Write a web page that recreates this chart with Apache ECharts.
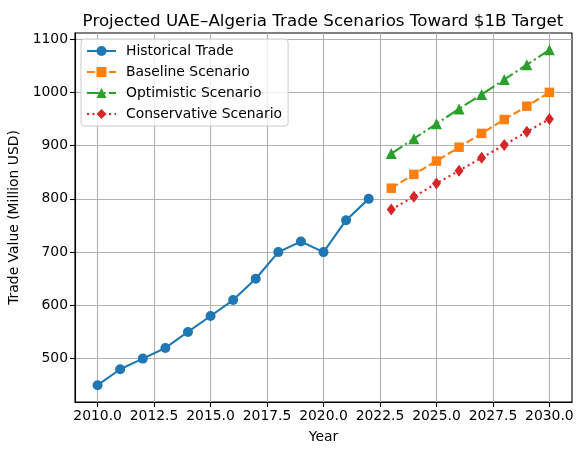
<!DOCTYPE html>
<html>
<head>
<meta charset="UTF-8">
<title>UAE-Algeria trade scenarios</title>
<script src="https://cdn.jsdelivr.net/npm/echarts@6/dist/echarts.min.js"></script>
<style>
    html, body { margin: 0; padding: 0; background: #fff; }
    #chart { width: 582px; height: 455px; }
</style>
</head>
<body>
<div id="chart"></div>
<script>
    // data
    var histYears = [2010, 2011, 2012, 2013, 2014, 2015, 2016, 2017, 2018, 2019, 2020, 2021, 2022];
    var histValues = [450, 480, 500, 520, 550, 580, 610, 650, 700, 720, 700, 760, 800];
    var projYears = [2023, 2024, 2025, 2026, 2027, 2028, 2029, 2030];
    var baseline = [820, 846, 871, 897, 923, 949, 974, 1000];
    var optimistic = [885, 913, 941, 969, 996, 1024, 1052, 1080];
    var conservative = [780, 804, 829, 853, 877, 901, 926, 950];
    var xTicks = [2010, 2012.5, 2015, 2017.5, 2020, 2022.5, 2025, 2027.5, 2030];
    var yTicks = [500, 600, 700, 800, 900, 1000, 1100];

    function pairs(xs, ys) {
        var out = [];
        for (var i = 0; i < xs.length; i++) {
            out.push([xs[i], ys[i]]);
        }
        return out;
    }

    var font = 'DejaVu Sans';
    var myChart = echarts.init(document.getElementById('chart'));

    var option = {
        animation: false,
        title: {
            text: 'Projected UAE\u2013Algeria Trade Scenarios Toward $1B Target',
            left: 318,
            top: 8,
            textAlign: 'center',
            textStyle: { fontFamily: font, fontSize: 16.7, fontWeight: 'normal', color: '#000' }
        },
        legend: {
            orient: 'vertical',
            left: 81,
            top: 39,
            padding: [5, 6, 5, 5],
            itemGap: 7,
            itemWidth: 29,
            itemHeight: 12.5,
            backgroundColor: 'rgba(255,255,255,0.8)',
            borderColor: '#cccccc',
            borderWidth: 1,
            borderRadius: 3,
            textStyle: { fontFamily: font, fontSize: 13.9, color: '#000', padding: [0, 0, 0, 5] },
            data: ['Historical Trade', 'Baseline Scenario', 'Optimistic Scenario', 'Conservative Scenario']
        },
        grid: {
            left: 75, right: 10, top: 33, bottom: 53,
            outerBoundsMode: 'none',
            containLabel: false,
            show: true,
            borderColor: '#000',
            borderWidth: 1.1,
            backgroundColor: 'transparent'
        },
        xAxis: {
            type: 'value',
            min: 2009,
            max: 2031,
            name: 'Year',
            nameLocation: 'middle',
            nameGap: 28,
            nameTextStyle: { fontFamily: font, fontSize: 13.9, color: '#000' },
            axisLine: { show: true, onZero: false, lineStyle: { color: '#000', width: 1.1 } },
            axisTick: { show: true, inside: false, length: 5, customValues: xTicks, lineStyle: { color: '#000', width: 1.1 } },
            axisLabel: {
                customValues: xTicks,
                margin: 7,
                fontFamily: font, fontSize: 13.9, color: '#000',
                formatter: function (v) { return v.toFixed(1); }
            },
            splitLine: { show: true, lineStyle: { color: '#b0b0b0', width: 1.1 } }
        },
        yAxis: {
            type: 'value',
            min: 418.5,
            max: 1111.5,
            name: 'Trade Value (Million USD)',
            nameLocation: 'middle',
            nameGap: 45,
            nameTextStyle: { fontFamily: font, fontSize: 13.9, color: '#000' },
            axisLine: { show: true, lineStyle: { color: '#000', width: 1.1 } },
            axisTick: { show: true, inside: false, length: 5, customValues: yTicks, lineStyle: { color: '#000', width: 1.1 } },
            axisLabel: {
                customValues: yTicks,
                margin: 7,
                fontFamily: font, fontSize: 13.9, color: '#000',
                formatter: function (v) { return String(v); }
            },
            splitLine: { show: true, lineStyle: { color: '#b0b0b0', width: 1.1 } }
        },
        series: [
            {
                name: 'Historical Trade',
                type: 'line',
                data: pairs(histYears, histValues),
                symbol: 'circle',
                symbolSize: 10,
                itemStyle: { color: '#1f77b4' },
                lineStyle: { color: '#1f77b4', width: 2.1 }
            },
            {
                name: 'Baseline Scenario',
                type: 'line',
                data: pairs(projYears, baseline),
                symbol: 'rect',
                symbolSize: 9.5,
                itemStyle: { color: '#ff7f0e' },
                lineStyle: { color: '#ff7f0e', width: 2.1, type: [7.7, 3.3] }
            },
            {
                name: 'Optimistic Scenario',
                type: 'line',
                data: pairs(projYears, optimistic),
                symbol: 'triangle',
                symbolSize: 11,
                itemStyle: { color: '#2ca02c' },
                lineStyle: { color: '#2ca02c', width: 2.1, type: [13.3, 3.3, 2.1, 3.3] }
            },
            {
                name: 'Conservative Scenario',
                type: 'line',
                data: pairs(projYears, conservative),
                symbol: 'diamond',
                symbolSize: [9, 12],
                itemStyle: { color: '#d62728' },
                lineStyle: { color: '#d62728', width: 2.1, type: [2.1, 3.4] }
            }
        ]
    };

    myChart.setOption(option);
</script>
</body>
</html>
